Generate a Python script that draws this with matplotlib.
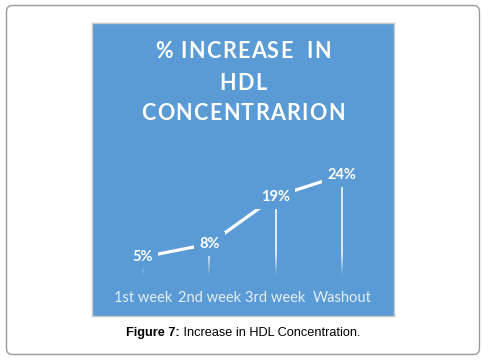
import numpy as np
import matplotlib
matplotlib.use("Agg")
import matplotlib.pyplot as plt
from matplotlib.patches import FancyBboxPatch
from matplotlib.collections import LineCollection

# data
weeks = ["1st week", "2nd week", "3rd week", "Washout"]
increase = [5, 8, 19, 24]
labels = ["5%", "8%", "19%", "24%"]
title_lines = ["% INCREASE  IN", "HDL", "CONCENTRARION"]

blue = "#5B9BD5"
W, H = 492, 360
fig = plt.figure(figsize=(W / 100, H / 100), dpi=100)
renderer = fig.canvas.get_renderer()

# background layer in pixel coords (border + caption)
bg = fig.add_axes([0, 0, 1, 1])
bg.set_xlim(0, W)
bg.set_ylim(H, 0)
bg.axis("off")
bg.set_zorder(0)
bg.add_patch(FancyBboxPatch((6.5, 5.5), 473, 349, boxstyle="round,pad=0,rounding_size=6",
                            fc="white", ec="#9a9a9a", lw=1.0))


def text_width(s, **kw):
    t = bg.text(0, 0, s, **kw)
    w = t.get_window_extent(renderer).width
    t.remove()
    return w


cap_kw = dict(fontsize=9.2, family="Liberation Sans", color="black", va="center")
w1 = text_width("Figure 7:", fontweight="bold", **cap_kw)
w2 = text_width(" Increase in HDL Concentration.", **cap_kw)
cx0 = 243 - (w1 + w2) / 2
bg.text(cx0, 333, "Figure 7:", ha="left", fontweight="bold", **cap_kw)
bg.text(cx0 + w1, 333, " Increase in HDL Concentration.", ha="left", **cap_kw)

# blue chart panel
px0, px1, py0, py1 = 92, 394, 23, 316
ax = fig.add_axes([px0 / W, 1 - py1 / H, (px1 - px0) / W, (py1 - py0) / H])
ax.set_zorder(1)
ax.set_facecolor(blue)
for s in ax.spines.values():
    s.set_color("#c9c9c9")
    s.set_linewidth(1.0)
ax.set_xticks([])
ax.set_yticks([])

# title layer above the panel, letter-spaced char by char
top = fig.add_axes([0, 0, 1, 1])
top.set_xlim(0, W)
top.set_ylim(H, 0)
top.axis("off")
top.set_zorder(2)
title_kw = dict(color="white", fontsize=15.5, fontweight="bold",
                family=["Lato", "DejaVu Sans"], va="center")
track = 1.3
ty = [52, 84, 114]
for line, yy in zip(title_lines, ty):
    widths = [text_width(c, **title_kw) if c != " " else 5.0 for c in line]
    total = sum(widths) + track * (len(line) - 1)
    xx = 243 - total / 2
    for c, w in zip(line, widths):
        top.text(xx, yy, c, ha="left", **title_kw)
        xx += w + track

x = np.arange(len(weeks))
dx = 66.3
ax.set_xlim(-(143 - px0) / dx, (px1 - 143) / dx)
k = 4.31
ax.set_ylim((278.5 - py1) / k, (278.5 - py0) / k)

# connecting line
ax.plot(x, increase, color="white", lw=2.3, solid_capstyle="butt", zorder=2)

# fading drop lines
for xi, v in zip(x, increase):
    ys = np.linspace(v, 0, 80)
    segs = [[(xi, ys[i]), (xi, ys[i + 1])] for i in range(len(ys) - 1)]
    mid = (ys[:-1] + ys[1:]) / 2
    alpha = np.clip((mid - 0.6) / 5.5, 0, 1) * 0.95
    cols = [(1, 1, 1, a) for a in alpha]
    ax.add_collection(LineCollection(segs, colors=cols, linewidths=1.2, zorder=1))

# data labels
for xi, v, lab in zip(x, increase, labels):
    ax.text(xi, v, lab, ha="center", va="center", color="white", fontsize=10.5,
            fontweight="bold", family=["Lato", "DejaVu Sans"], zorder=4,
            bbox=dict(boxstyle="square,pad=0.35", fc=blue, ec="none"))

# category labels
for xi, w in zip(x, weeks):
    ax.text(xi, (278.5 - 298) / k, w, ha="center", va="center", color="#e4eef8",
            fontsize=10.5, family=["Lato", "DejaVu Sans"], zorder=4)

fig.savefig("out.png", dpi=100)
